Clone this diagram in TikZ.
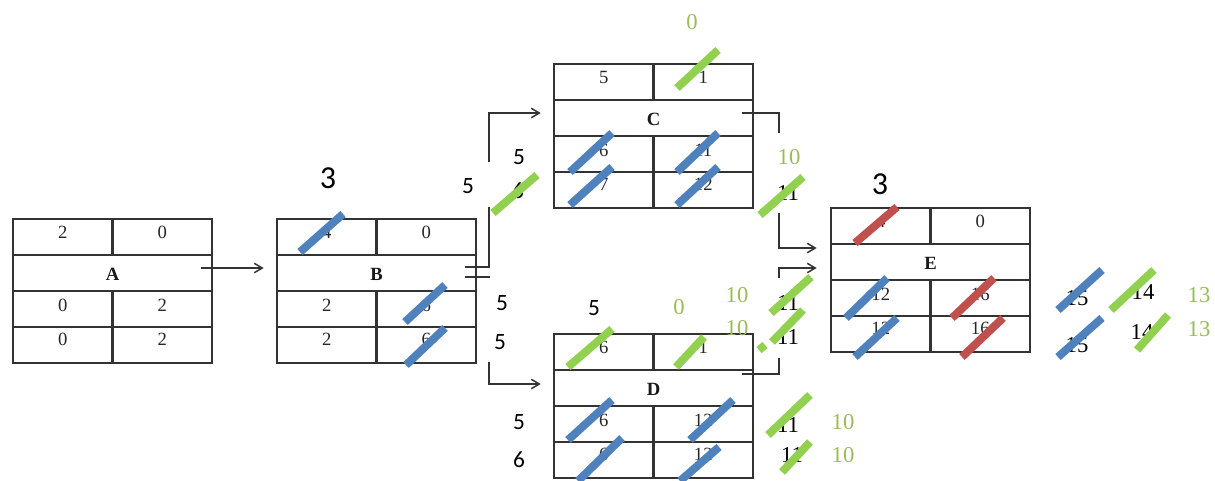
\documentclass[tikz,border=0pt]{standalone}
\usepackage{fontspec}
\setmainfont{Liberation Serif}
\newfontfamily\calfont{Carlito}
\usetikzlibrary{arrows.meta,calc}
\definecolor{sblue}{HTML}{4F81BD}
\definecolor{sgreen}{HTML}{92D050}
\definecolor{sred}{HTML}{C0504D}
\definecolor{tgreen}{HTML}{9BBB59}
\definecolor{frame}{HTML}{333333}
\tikzset{
 boxframe/.style={draw=frame, line width=1.9pt, minimum width=149.25pt, minimum height=108pt, inner sep=0pt},
 cellline/.style={draw=frame, line width=1.9pt},
 celltxt/.style={inner sep=0pt, text=black!85, font=\fontsize{14}{16}\selectfont},
 celllbl/.style={inner sep=0pt, text=black!90, font=\fontsize{14}{16}\selectfont\bfseries},
 conn/.style={draw=frame, line width=1.1pt},
 arr/.style={conn, -{Straight Barb[length=6pt,width=7pt]}},
 bstrike/.style={draw=sblue, line width=6pt},
 gstrike/.style={draw=sgreen, line width=6pt},
 rstrike/.style={draw=sred, line width=6pt},
 snum/.style={inner sep=0pt, font=\calfont\fontsize{17.5}{20}\selectfont},
 bignum/.style={inner sep=0pt, font=\calfont\fontsize{24}{28}\selectfont},
 rnum/.style={inner sep=0pt, font=\fontsize{17}{20}\selectfont},
 gnum/.style={rnum, text=tgreen},
}
\newcommand\taskbox[9]{%
 \begin{scope}[shift={#2}]
 \node[boxframe] (#1) at (99.5,72) {};
 \draw[cellline] (0,36)--(199,36) (0,72)--(199,72) (0,108)--(199,108)
   (99.5,0)--(99.5,36) (99.5,72)--(99.5,144);
 \node[celltxt] (#1-d) at (49.75,13) {#3};
 \node[celltxt] (#1-f) at (149.25,13) {#4};
 \node[celllbl] (#1-n) at (99.5,55) {#5};
 \node[celltxt] (#1-es) at (49.75,86) {#6};
 \node[celltxt] (#1-ef) at (149.25,86) {#7};
 \node[celltxt] (#1-ls) at (49.75,120) {#8};
 \node[celltxt] (#1-lf) at (149.25,120) {#9};
 \end{scope}}
\begin{document}
\begin{tikzpicture}[x=0.75pt, y=-0.75pt]
\useasboundingbox (0,0) rectangle (1215,480);

\taskbox{A}{(13,219)}{2}{0}{A}{0}{2}{0}{2}
\taskbox{B}{(277,219)}{4}{0}{B}{2}{6}{2}{6}
\taskbox{C}{(554,64)}{5}{1}{C}{6}{11}{7}{12}
\taskbox{D}{(554,334)}{6}{1}{D}{6}{12}{6}{12}
\taskbox{E}{(831,208)}{4}{0}{E}{12}{16}{12}{16}

% connectors
\coordinate (bc1) at (489,207);
\coordinate (bc2) at (489,162);
\coordinate (bd1) at (490,277);
\coordinate (bd2) at (489,362);
\coordinate (ce1) at (779,133);
\coordinate (ce2) at (779,213);
\coordinate (de1) at (779,358);
\coordinate (de2) at (779,278);

\draw[arr] ([shift={(-12,-23)}]A.east) -- ([shift={(-12,-23)}]B.west);
\draw[conn] ([shift={(-12,-24)}]B.east) -| (bc1);
\draw[arr] (bc2) |- ([shift={(-12,-23)}]C.west);
\draw[conn] ([shift={(-12,-14)}]B.east) -- (bd1);
\draw[arr] (bd2) |- ([shift={(-12,-22)}]D.west);
\draw[conn] ([shift={(-12,-23)}]C.east) -| (ce1);
\draw[arr] (ce2) |- ([shift={(-13,-32)}]E.west);
\draw[conn] ([shift={(-12,-32)}]D.east) -| (de1);
\draw[arr] (de2) |- ([shift={(-13,-12)}]E.west);

% free labels
\node[bignum] (l3b) at (328,178) {3};
\node[bignum] (l3e) at (880,184) {3};
\node[snum] (l5a) at (519,157) {5};
\node[snum] (l5b) at (468,186) {5};
\node[snum] (l6a) at (518,191) {6};
\node[snum] (l5c) at (502,303) {5};
\node[snum] (l5d) at (500,342) {5};
\node[snum] (l5e) at (594,308) {5};
\node[snum] (l5f) at (519,422) {5};
\node[snum] (l6b) at (519,460) {6};

\node[rnum] (r11a) at (788,193) {11};
\node[rnum] (r11b) at (788,303) {11};
\node[rnum] (r11c) at (788,337) {11};
\node[rnum] (r11d) at (788,425) {11};
\node[rnum] (r11e) at (792,455) {11};
\node[rnum] (r15a) at (1077,298) {15};
\node[rnum] (r15b) at (1077,345) {15};
\node[rnum] (r14a) at (1143,292) {14};
\node[rnum] (r14b) at (1142,332) {14};

\node[gnum] (g0a) at (692,22) {0};
\node[gnum] (g10a) at (789,157) {10};
\node[gnum] (g0b) at (679,307) {0};
\node[gnum] (g10b) at (737,295) {10};
\node[gnum] (g10c) at (737,328) {10};
\node[gnum] (g10d) at (843,422) {10};
\node[gnum] (g10e) at (843,455) {10};
\node[gnum] (g13a) at (1199,295) {13};
\node[gnum] (g13b) at (1199,329) {13};

% strikes
\draw[bstrike] (300,252)--(343,214);
\draw[bstrike] (405,322)--(445,285);
\draw[bstrike] (406,365)--(445,328);
\draw[bstrike] (570,172)--(612,133);
\draw[bstrike] (677,172)--(718,133);
\draw[bstrike] (570,205)--(612,167);
\draw[bstrike] (677,205)--(718,167);
\draw[bstrike] (568,440)--(612,400);
\draw[bstrike] (690,440)--(733,400);
\draw[bstrike] (578,481)--(622,438);
\draw[bstrike] (680,481)--(719,447);
\draw[bstrike] (846,318)--(887,278);
\draw[bstrike] (855,357)--(897,318);
\draw[bstrike] (1058,310)--(1102,270);
\draw[bstrike] (1058,357)--(1102,318);

\draw[gstrike] (493,213)--(537,175);
\draw[gstrike] (677,88)--(718,50);
\draw[gstrike] (760,215)--(803,177);
\draw[gstrike] (771,313)--(811,277);
\draw[gstrike] (772,342)--(803,310);
\draw[gstrike] (568,367)--(612,329);
\draw[gstrike] (676,367)--(704,337);
\draw[gstrike] (768,435)--(810,395);
\draw[gstrike] (782,472)--(810,442);
\draw[gstrike] (1111,310)--(1154,270);
\draw[gstrike] (1137,350)--(1168,315);
\draw[gstrike] (759,350)--(765,345);

\draw[rstrike] (855,243)--(897,207);
\draw[rstrike] (952,318)--(994,278);
\draw[rstrike] (962,357)--(1003,318);
\end{tikzpicture}
\end{document}
